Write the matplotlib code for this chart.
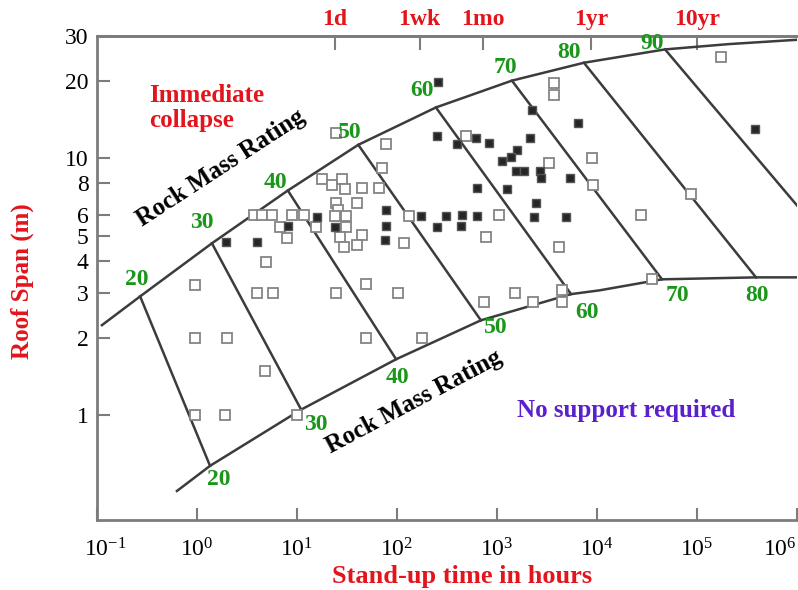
import matplotlib
matplotlib.use('Agg')
import matplotlib.pyplot as plt
import matplotlib.transforms as mtransforms
from matplotlib.ticker import NullLocator

plt.rcParams['font.family'] = 'Liberation Serif'
plt.rcParams['mathtext.fontset'] = 'custom'
plt.rcParams['mathtext.rm'] = 'Liberation Serif'
plt.rcParams['mathtext.it'] = 'Liberation Serif:italic'
plt.rcParams['mathtext.bf'] = 'Liberation Serif:bold'

RED = '#e3141c'
GREEN = '#1a961a'
PURPLE = '#5a20cc'
LINE = '#3c3c3c'
AXIS = '#7c7c7c'

# Rock mass rating lines: end points on the upper and lower boundary curves
rmr = [20, 30, 40, 50, 60, 70, 80, 90]
upper_t = [0.27, 1.41, 8.1, 41, 245, 1410, 7400, 47900]
upper_s = [2.90, 4.67, 7.5, 11.3, 15.8, 20.1, 23.6, 26.6]
lower_t = [1.35, 11.0, 98, 690, 5500, 44700, 389000, 1.0e6]
lower_s = [0.634, 1.05, 1.65, 2.34, 2.96, 3.38, 3.44, 6.56]

# boundary curves (stand-up time in hours, span in m)
upper_curve_t = [0.112, 0.27, 1.41, 8.1, 41, 245, 1410, 7400, 47900, 209000, 1.0e6]
upper_curve_s = [2.24, 2.90, 4.67, 7.5, 11.3, 15.8, 20.1, 23.6, 26.6, 27.9, 29.0]
lower_curve_t = [0.63, 1.35, 11.0, 98, 690, 5500, 10500, 44700, 389000, 1.0e6]
lower_curve_s = [0.506, 0.634, 1.05, 1.65, 2.34, 2.96, 3.06, 3.38, 3.44, 3.44]

# case histories: open squares
open_t = [0.96, 0.96, 2.0, 0.96, 1.9, 10, 4.8, 4.0, 5.8, 4.9,
          3.7, 4.5, 5.6, 8.9, 11.7, 6.8, 7.9, 17.8, 22.4, 28,
          30, 45, 66, 40, 24.5, 25.7, 24, 31, 31, 27,
          29.5, 45, 40, 24.5, 77, 71, 49, 24.5, 102, 49,
          178, 117, 132, 490, 776, 1047, 741, 1514, 2290, 4467,
          4467, 4169, 3715, 3715, 3311, 8900, 9120, 27500, 35500, 87000,
          174000, 15.5]
open_s = [3.2, 2.0, 2.0, 1.0, 1.0, 1.0, 1.48, 2.98, 2.98, 3.94,
          6.0, 6.0, 6.0, 6.0, 6.0, 5.4, 4.9, 8.3, 7.85, 8.3,
          7.6, 7.7, 7.7, 6.7, 6.7, 6.3, 5.95, 5.95, 5.4, 4.95,
          4.5, 5.05, 4.6, 12.6, 11.4, 9.2, 3.25, 2.98, 2.98, 2.0,
          2.0, 4.7, 5.95, 12.2, 4.95, 6.0, 2.77, 3.0, 2.77, 3.08,
          2.77, 4.5, 19.6, 17.6, 9.6, 10.0, 7.85, 6.0, 3.38, 7.3,
          24.9, 5.4]

# case histories: filled squares
filled_t = [1.95, 4.0, 8.1, 15.8, 24, 77, 77, 76, 174, 309,
            447, 631, 251, 437, 631, 257, 251, 398, 617, 832,
            2240, 6457, 2140, 1590, 1380, 1120, 1550, 1860, 2690, 2750,
            5370, 1260, 2450, 2340, 4900, 380000]
filled_s = [4.73, 4.73, 5.45, 5.9, 5.4, 6.3, 5.45, 4.8, 5.95, 5.95,
            6.0, 5.95, 5.4, 5.45, 7.7, 19.9, 12.2, 11.4, 12.0, 11.5,
            15.4, 13.8, 12.0, 10.8, 10.1, 9.8, 8.9, 8.9, 8.95, 8.4,
            8.4, 7.6, 6.7, 5.9, 5.9, 13.0]

x_ticks = [1e-1, 1e0, 1e1, 1e2, 1e3, 1e4, 1e5, 1e6]
x_labels = [r'10$^{-1}$', r'10$^{0}$', r'10$^{1}$', r'10$^{2}$',
            r'10$^{3}$', r'10$^{4}$', r'10$^{5}$', r'10$^{6}$']
y_ticks = [1, 2, 3, 4, 5, 6, 8, 10, 20, 30]
y_labels = ['1', '2', '3', '4', '5', '6', '8', '10', '20', '30']
time_ticks = [24, 168, 720, 8760, 1.0e5]
time_labels = ['1d', '1wk', '1mo', '1yr', '10yr']

fig = plt.figure(figsize=(7.98, 5.90), dpi=100)
ax = fig.add_axes([97 / 798, 70 / 590, 700 / 798, 484 / 590])
ax.set_xscale('log')
ax.set_yscale('log')
ax.set_xlim(0.1, 1e6)
ax.set_ylim(0.39, 30)

# boundaries and RMR lines
ax.plot(upper_curve_t, upper_curve_s, color=LINE, lw=1.8, zorder=2)
ax.plot(lower_curve_t, lower_curve_s, color=LINE, lw=1.8, zorder=2)
for i in range(len(rmr)):
    ax.plot([upper_t[i], lower_t[i]], [upper_s[i], lower_s[i]],
            color=LINE, lw=1.8, zorder=2)

# rating numbers next to the line ends (offsets in pixels)
upper_offsets = [(-3, 17), (-10, 21), (-12, 8), (-9, 12), (-14, 17), (-6, 13), (-15, 10), (-13, 6)]
lower_offsets = [(9, -14), (15, -15), (1, -18), (15, -7), (16, -18), (15, -16), (1, -18)]
for i, r in enumerate(rmr):
    ax.annotate(str(r), (upper_t[i], upper_s[i]), xytext=upper_offsets[i],
                textcoords='offset pixels', ha='center', va='center',
                color=GREEN, fontsize=17, fontweight='bold', zorder=4)
for i, r in enumerate(rmr[:-1]):
    ax.annotate(str(r), (lower_t[i], lower_s[i]), xytext=lower_offsets[i],
                textcoords='offset pixels', ha='center', va='center',
                color=GREEN, fontsize=17, fontweight='bold', zorder=4)

# case histories
ax.plot(open_t, open_s, 's', ls='none', ms=6.5, mfc='white', mec='#858585',
        mew=1.3, zorder=3)
ax.plot(filled_t, filled_s, 's', ls='none', ms=6.3, mfc='#262626', mec='#555555',
        mew=1.0, zorder=3)

# region labels
ax.text(0.33, 15.7, 'Immediate\ncollapse', color=RED, fontsize=18, fontweight='bold',
        ha='left', va='center', linespacing=1.1)
ax.text(1.74, 9.2, 'Rock Mass Rating', fontsize=18, fontweight='bold', color='black',
        rotation=33, rotation_mode='anchor', ha='center', va='center')
ax.text(148, 1.13, 'Rock Mass Rating', fontsize=18, fontweight='bold', color='black',
        rotation=28, rotation_mode='anchor', ha='center', va='center')
ax.text(19500, 1.046, 'No support required', fontsize=18, fontweight='bold',
        color=PURPLE, ha='center', va='center')

# axes styling
for side in ['left', 'bottom', 'top']:
    ax.spines[side].set_color(AXIS)
    ax.spines[side].set_linewidth(2)
ax.spines['right'].set_visible(False)

ax.set_xticks(x_ticks, labels=x_labels)
ax.set_yticks(y_ticks, labels=y_labels)
ax.xaxis.set_minor_locator(NullLocator())
ax.yaxis.set_minor_locator(NullLocator())
ax.tick_params(axis='x', direction='in', length=9, width=1.5, color=AXIS,
               pad=13, labelsize=17)
ax.tick_params(axis='y', direction='in', length=9, width=1.5, color=AXIS,
               pad=6, labelsize=17)

# keep the outer decade labels inside the figure
xlbls = ax.get_xticklabels()
xlbls[0].set_transform(xlbls[0].get_transform() +
                       mtransforms.ScaledTranslation(8 / 100, 0, fig.dpi_scale_trans))
xlbls[-1].set_horizontalalignment('right')

top = ax.secondary_xaxis('top')
top.set_xticks(time_ticks, labels=time_labels)
top.xaxis.set_minor_locator(NullLocator())
top.tick_params(direction='in', length=10, width=1.5, color=AXIS, pad=4,
                labelsize=17, labelcolor=RED)
for lbl in top.get_xticklabels():
    lbl.set_fontweight('bold')
top.spines['top'].set_color(AXIS)
top.spines['top'].set_linewidth(2)

ax.text(-0.107, 0.494, 'Roof Span (m)', transform=ax.transAxes, rotation=90,
        color=RED, fontsize=18, fontweight='bold', ha='center', va='center')
ax.text(0.521, -0.116, 'Stand-up time in hours', transform=ax.transAxes,
        color=RED, fontsize=19, fontweight='bold', ha='center', va='center')

fig.savefig('out.png', dpi=100)
